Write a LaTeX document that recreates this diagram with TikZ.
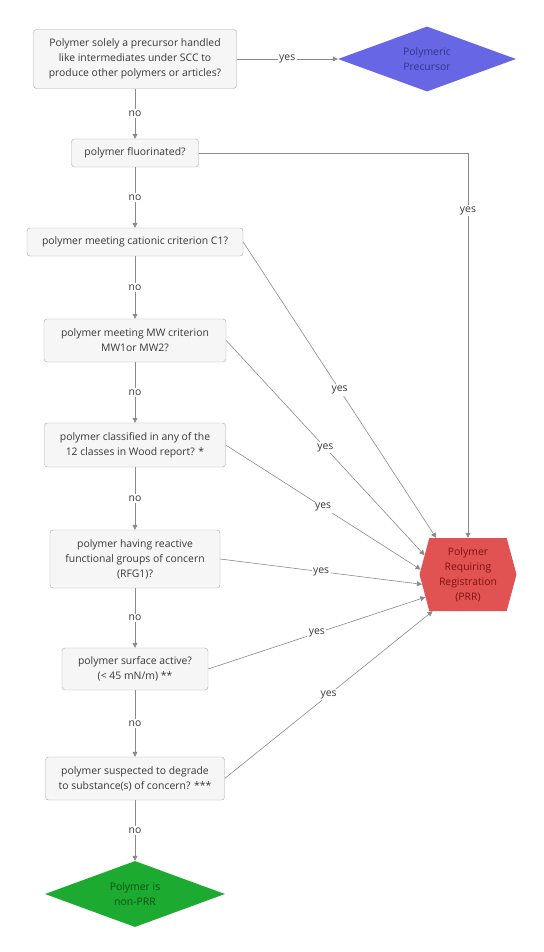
\documentclass[tikz,border=0pt]{standalone}
\usepackage{fontspec}
\setmainfont{Open Sans}
\usetikzlibrary{shapes.geometric,shapes.symbols,arrows.meta}

\definecolor{gris}{HTML}{8A8A8A}
\definecolor{borde}{HTML}{A8A8A8}
\definecolor{fondo}{HTML}{F6F6F6}
\definecolor{texto}{HTML}{383838}
\definecolor{azul}{HTML}{6767E6}
\definecolor{azultexto}{HTML}{34348F}
\definecolor{rojo}{HTML}{E15252}
\definecolor{rojotexto}{HTML}{7E1414}
\definecolor{verde}{HTML}{1CAA30}
\definecolor{verdetexto}{HTML}{0C5216}

\tikzset{
	pregunta/.style={draw=borde, fill=fondo, rounded corners=3pt, align=center,
		text=texto, inner sep=2pt, font=\fontsize{10.4}{15}\selectfont},
	flecha/.style={draw=gris, line width=0.6pt, -{Triangle[length=5pt,width=5pt]}},
	etiqueta/.style={fill=white, text=texto, inner sep=1.5pt, font=\fontsize{10.4}{12}\selectfont},
}

\begin{document}
\begin{tikzpicture}[x=1pt, y=-1pt]
	
	% Marco del dibujo completo
	\useasboundingbox (0,0) rectangle (543,952);
	
	% Preguntas de la columna izquierda
	\node[pregunta, minimum width=203pt, minimum height=59pt] (precursor) at (135,59)
		{Polymer solely a precursor handled\\like intermediates under SCC to\\produce other polymers or articles?};
	\node[pregunta, minimum width=127pt, minimum height=28pt] (fluor) at (135,153)
		{polymer fluorinated?};
	\node[pregunta, minimum width=216pt, minimum height=28pt] (cationic) at (135,242)
		{polymer meeting cationic criterion C1?};
	\node[pregunta, minimum width=182pt, minimum height=43pt] (mw) at (135,340.5)
		{polymer meeting MW criterion\\MW1or MW2?};
	\node[pregunta, minimum width=181pt, minimum height=44pt] (wood) at (135,445)
		{polymer classified in any of the\\12 classes in Wood report? *};
	\node[pregunta, minimum width=170pt, minimum height=58pt] (rfg) at (135,559)
		{polymer having reactive\\functional groups of concern\\(RFG1)?};
	\node[pregunta, minimum width=146pt, minimum height=42pt] (surface) at (135,669)
		{polymer surface active?\\(< 45 mN/m) **};
	\node[pregunta, minimum width=179pt, minimum height=43pt] (degrade) at (135,778.5)
		{polymer suspected to degrade\\to substance(s) of concern? ***};
	
	% Resultados (rombos y hexágono)
	\node[diamond, aspect=2.7, fill=azul, text=azultexto, align=center, inner sep=1pt,
		minimum width=178pt, minimum height=65pt, font=\fontsize{10.4}{15}\selectfont]
		(polprec) at (427,59) {Polymeric\\Precursor};
	\node[signal, signal to=east and west, signal pointer angle=150, fill=rojo,
		text=rojotexto, align=center, inner sep=1pt, minimum width=97pt, minimum height=73pt,
		font=\fontsize{10.4}{15}\selectfont] (prr) at (468,574.5)
		{Polymer\\Requiring\\Registration\\(PRR)};
	\node[diamond, aspect=2.7, fill=verde, text=verdetexto, align=center, inner sep=1pt,
		minimum width=180pt, minimum height=66pt, font=\fontsize{10.4}{15}\selectfont]
		(nonprr) at (135,894) {Polymer is\\non-PRR};
	
	% Flechas "no" hacia abajo
	\draw[flecha] (precursor) -- node[etiqueta] {no} (fluor);
	\draw[flecha] (fluor) -- node[etiqueta] {no} (cationic);
	\draw[flecha] (cationic) -- node[etiqueta] {no} (mw);
	\draw[flecha] (mw) -- node[etiqueta] {no} (wood);
	\draw[flecha] (wood) -- node[etiqueta] {no} (rfg);
	\draw[flecha] (rfg) -- node[etiqueta] {no} (surface);
	\draw[flecha] (surface) -- node[etiqueta] {no} (degrade);
	\draw[flecha] (degrade) -- node[etiqueta] {no} (nonprr);
	
	% Flechas "yes" hacia los resultados
	\draw[flecha] (precursor) -- node[etiqueta] {yes} (polprec);
	\draw[flecha] (fluor.east) -| node[etiqueta, pos=0.575] {yes} (prr.north);
	\draw[flecha] (cationic.east) -- node[etiqueta] {yes} (prr.131);
	\draw[flecha] (mw.east) -- node[etiqueta] {yes} (prr.156);
	\draw[flecha] (wood.east) -- node[etiqueta] {yes} (prr.174);
	\draw[flecha] (rfg.east) -- node[etiqueta] {yes} (prr.192);
	\draw[flecha] (surface.east) -- node[etiqueta] {yes} (prr.208);
	\draw[flecha] (degrade.east) -- node[etiqueta] {yes} (prr.226);
	
\end{tikzpicture}
\end{document}
